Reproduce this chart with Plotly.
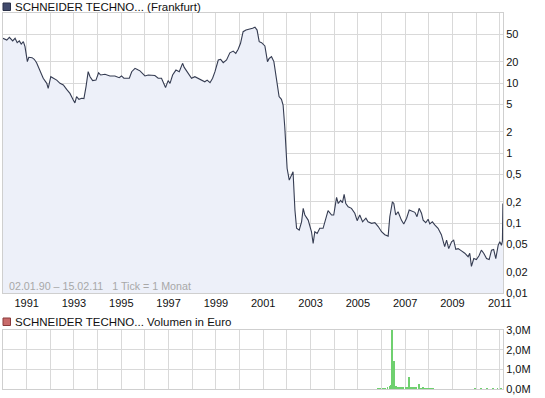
import plotly.graph_objects as go

# ---- price data (decimal year, EUR) ----
price_year = [1990.00, 1990.16, 1990.27, 1990.41, 1990.51, 1990.60, 1990.69, 1990.77, 1990.86, 1990.93,
              1991.03, 1991.09, 1991.23, 1991.32, 1991.42, 1991.56, 1991.70, 1991.85, 1991.91,
              1992.02, 1992.13, 1992.27, 1992.41, 1992.55, 1992.69, 1992.83, 1992.97,
              1993.04, 1993.11, 1993.21, 1993.33, 1993.42, 1993.51, 1993.60, 1993.68, 1993.79, 1993.93,
              1994.04, 1994.13, 1994.31, 1994.52, 1994.73, 1994.91,
              1995.01, 1995.11, 1995.34, 1995.44, 1995.58, 1995.72, 1995.79,
              1996.00, 1996.14, 1996.42, 1996.56, 1996.70, 1996.77, 1996.87, 1996.98,
              1997.06, 1997.17, 1997.31, 1997.45, 1997.59, 1997.66, 1997.83, 1997.97,
              1998.11, 1998.25, 1998.39, 1998.53, 1998.63, 1998.75, 1998.86, 1998.96,
              1999.10, 1999.20, 1999.31, 1999.45, 1999.59, 1999.73, 1999.84, 1999.94,
              2000.04, 2000.15, 2000.27, 2000.44, 2000.55, 2000.65, 2000.74, 2000.83, 2000.93,
              2001.07, 2001.18, 2001.25, 2001.35, 2001.45, 2001.56, 2001.67, 2001.77, 2001.84, 2001.91, 2001.96,
              2002.01, 2002.10, 2002.20, 2002.26, 2002.34, 2002.41, 2002.52, 2002.62, 2002.69, 2002.76, 2002.90, 2002.97,
              2003.04, 2003.11, 2003.18, 2003.28, 2003.39, 2003.53, 2003.60, 2003.74, 2003.89, 2003.98,
              2004.10, 2004.17, 2004.27, 2004.35, 2004.42, 2004.49, 2004.59, 2004.73, 2004.87, 2004.97,
              2005.08, 2005.20, 2005.34, 2005.43, 2005.58, 2005.72, 2005.86,
              2006.00, 2006.14, 2006.28, 2006.35, 2006.46, 2006.52, 2006.60, 2006.70, 2006.84, 2006.94,
              2007.06, 2007.17, 2007.27, 2007.41, 2007.50, 2007.59, 2007.69, 2007.76, 2007.87, 2007.97,
              2008.04, 2008.15, 2008.25, 2008.39, 2008.53, 2008.67, 2008.75, 2008.84, 2008.96,
              2009.05, 2009.14, 2009.24, 2009.38, 2009.52, 2009.66, 2009.73, 2009.80, 2009.90,
              2010.01, 2010.12, 2010.22, 2010.32, 2010.44, 2010.55, 2010.65, 2010.74, 2010.83, 2010.93,
              2011.00, 2011.07, 2011.11, 2011.13]
price_val = [43.5, 41, 45, 40, 43.5, 37.7, 40, 36, 39, 33,
             20.2, 23.3, 23, 21.8, 19.5, 15.3, 11.7, 9.9, 8.4,
             12.3, 11.7, 11, 9.9, 9.4, 8.1, 7.1, 5.7,
             5.2, 6.4, 5.85, 6.05, 6.0, 8.9, 14.5, 12.3, 10.8, 11,
             14, 13, 13.3, 12.6, 12.6, 11.9,
             12.6, 11.7, 11.7, 14.5, 16.2, 15.3, 14.9,
             12.6, 13, 12.8, 11.7, 11.7, 10.4, 8.6, 10.8,
             9.9, 13, 15.3, 14.5, 19.1, 16.7, 14, 11.7,
             12.3, 11.7, 11, 10.4, 11, 10.1, 11.7, 14.5,
             21.3, 21.8, 19.5, 21.3, 27, 28.6, 26.5, 30.3,
             36.9, 54, 57, 58.5, 60.5, 62.6, 57, 39, 37.7,
             33.8, 20.2, 22.4, 23.8, 20.2, 11.5, 6.4, 5.85, 4.85, 2.37, 1.1,
             0.60, 0.41, 0.485, 0.54, 0.153, 0.084, 0.079, 0.104, 0.162, 0.13, 0.11, 0.094,
             0.075, 0.051, 0.075, 0.071, 0.084, 0.084, 0.104, 0.15, 0.13, 0.13,
             0.233, 0.19, 0.21, 0.195, 0.257, 0.19, 0.17, 0.162, 0.138, 0.108,
             0.13, 0.104, 0.117, 0.104, 0.099, 0.101, 0.089,
             0.075, 0.068, 0.065, 0.123, 0.20, 0.19, 0.13, 0.145, 0.11, 0.097,
             0.117, 0.153, 0.148, 0.142, 0.123, 0.162, 0.138, 0.11, 0.101, 0.113,
             0.097, 0.104, 0.094, 0.084, 0.068, 0.046, 0.057, 0.043, 0.054,
             0.057, 0.042, 0.043, 0.040, 0.037, 0.033, 0.037, 0.024, 0.031,
             0.030, 0.034, 0.041, 0.037, 0.031, 0.030, 0.041, 0.042, 0.031, 0.048,
             0.054, 0.048, 0.055, 0.19]

# ---- volume data (decimal year, EUR) ----
vol_year = [2005.85, 2005.95, 2006.05, 2006.15, 2006.25, 2006.35, 2006.40, 2006.45, 2006.53, 2006.60,
            2006.68, 2006.77, 2006.85, 2006.93, 2007.02, 2007.08, 2007.15, 2007.23, 2007.32, 2007.40,
            2007.48, 2007.59, 2007.68, 2007.77, 2007.85, 2007.93, 2008.02, 2008.10, 2008.18,
            2009.95, 2010.20, 2010.45, 2010.70, 2010.90, 2011.05]
vol_val = [30e3, 40e3, 30e3, 50e3, 60e3, 150e3, 220e3, 3.0e6, 1.4e6, 150e3,
           120e3, 100e3, 80e3, 90e3, 120e3, 80e3, 600e3, 100e3, 80e3, 120e3,
           60e3, 270e3, 50e3, 60e3, 50e3, 40e3, 40e3, 30e3, 30e3,
           20e3, 30e3, 20e3, 30e3, 30e3, 40e3]

# ---- axis ticks ----
year_ticks = [1991, 1993, 1995, 1997, 1999, 2001, 2003, 2005, 2007, 2009, 2011]
price_ticks = [0.01, 0.02, 0.05, 0.1, 0.2, 0.5, 1, 2, 5, 10, 20, 50]
price_labels = ["0,01", "0,02", "0,05", "0,1", "0,2", "0,5", "1", "2", "5", "10", "20", "50"]
vol_ticks = [0, 1e6, 2e6, 3e6]
vol_labels = ["0,0M", "1,0M", "2,0M", "3,0M"]

W, H = 545, 398
ML, MR, MT, MB = 3, 42, 13, 9
PW, PH = W - ML - MR, H - MT - MB

def px(x):
    return (x - ML) / PW

def py(y):
    return (H - MB - y) / PH

GRID = "#d9d9d9"
FONT = "Liberation Sans, Arial, sans-serif"
X0, X1 = 1990.0, 2011.135

fig = go.Figure()
# baseline for fill
fig.add_trace(go.Scatter(x=[X0, X1], y=[0.01, 0.01], mode="lines",
                         line=dict(width=0), hoverinfo="skip", showlegend=False,
                         xaxis="x", yaxis="y"))
fig.add_trace(go.Scatter(x=price_year, y=price_val, mode="lines",
                         line=dict(color="#353c52", width=1.1),
                         fill="tonexty", fillcolor="#edf0f9",
                         showlegend=False, xaxis="x", yaxis="y"))
fig.add_trace(go.Bar(x=vol_year, y=vol_val, width=0.035,
                     marker=dict(color="#6fd06f", line=dict(width=0)),
                     showlegend=False, xaxis="x2", yaxis="y2"))

axis_common = dict(showgrid=True, gridcolor=GRID, gridwidth=1, zeroline=False,
                   showline=True, linecolor="#cfcfcf", mirror=True, ticks="")

fig.update_layout(
    width=W, height=H,
    margin=dict(l=ML, r=MR, t=MT, b=MB),
    paper_bgcolor="white", plot_bgcolor="white",
    font=dict(family=FONT, size=11, color="#222222"),
    bargap=0,
    xaxis=dict(domain=[0, 1], range=[X0, X1], tickvals=year_ticks,
               ticktext=[str(y) for y in year_ticks],
               tickfont=dict(size=11, color="#111111"),
               minor=dict(dtick=1, tick0=1990, showgrid=True, gridcolor=GRID, ticks=""),
               anchor="y", **axis_common),
    yaxis=dict(domain=[py(293), 1], type="log", range=[-2, 2], side="right",
               tickvals=price_ticks, ticktext=price_labels,
               tickfont=dict(size=11, color="#111111"),
               anchor="x", **axis_common),
    xaxis2=dict(domain=[0, 1], range=[X0, X1], matches="x", showticklabels=False,
                tickvals=year_ticks,
                minor=dict(dtick=1, tick0=1990, showgrid=True, gridcolor=GRID, ticks=""),
                anchor="y2", **axis_common),
    yaxis2=dict(domain=[0, py(330)], range=[0, 3e6], side="right",
                tickvals=vol_ticks, ticktext=vol_labels,
                tickfont=dict(size=11, color="#111111"),
                anchor="x2", **axis_common),
    shapes=[
        dict(type="rect", xref="paper", yref="paper",
             x0=px(3), x1=px(10.5), y0=py(10.5), y1=py(3),
             fillcolor="#404a6c", line=dict(color="#2a3048", width=1)),
        dict(type="rect", xref="paper", yref="paper",
             x0=px(3), x1=px(10.5), y0=py(325.5), y1=py(318),
             fillcolor="#c86a6a", line=dict(color="#8a3a3a", width=1)),
    ],
    annotations=[
        dict(text="SCHNEIDER TECHNO... (Frankfurt)", xref="paper", yref="paper",
             x=px(13), y=py(7), xanchor="left", yanchor="middle", showarrow=False,
             font=dict(size=11.5, color="#111111")),
        dict(text="SCHNEIDER TECHNO... Volumen in Euro", xref="paper", yref="paper",
             x=px(13), y=py(322), xanchor="left", yanchor="middle", showarrow=False,
             font=dict(size=11.5, color="#111111")),
        dict(text="02.01.90 \u2013 15.02.11\u00a0\u00a0 1 Tick = 1 Monat", xref="paper", yref="paper",
             x=px(7), y=py(286), xanchor="left", yanchor="middle", showarrow=False,
             font=dict(size=10.7, color="#a8a8a8")),
    ],
)

fig.write_html("out.html", config={"displayModeBar": False},
               post_script="document.body.style.margin='0';document.body.style.padding='0';")
